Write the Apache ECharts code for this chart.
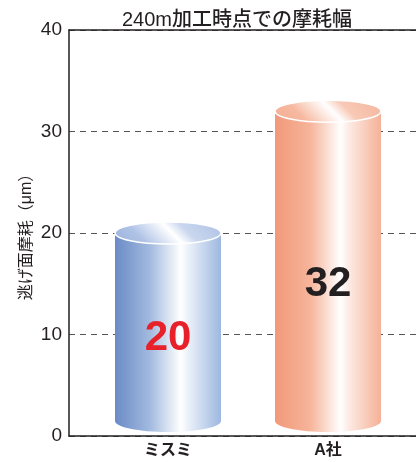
<!DOCTYPE html>
<html>
<head>
<meta charset="utf-8">
<script src="https://cdn.jsdelivr.net/npm/echarts@6/dist/echarts.min.js"></script>
<style>html,body{margin:0;padding:0;background:#fff;}#c{width:416px;height:462px;}</style>
</head>
<body>
<div id="c"></div>
<script>
var categories = ['ミスミ', 'A社'];
var values = [20, 32];
var valueLabels = ['20', '32'];
var labelColors = ['#e8202a', '#231f20'];
var yTicks = [0, 10, 20, 30, 40];
var titleText = '240m加工時点での摩耗幅';
var yName = '逃げ面摩耗（μm）';

var bodyStops = [
  [[0, '#6b8bc6'], [0.33, '#a2badf'], [0.62, '#ffffff'], [0.68, '#eef3fa'], [1, '#9db8e0']],
  [[0, '#f2997a'], [0.33, '#f6b49a'], [0.62, '#ffffff'], [0.68, '#fdeee8'], [1, '#f5b197']]
];
var topStops = [
  [[0, '#7f9ad2'], [0.35, '#b0c3e6'], [0.52, '#ffffff'], [0.6, '#c9d6ee'], [1, '#93acda']],
  [[0, '#f09a7c'], [0.35, '#f6b9a0'], [0.52, '#ffffff'], [0.6, '#f8c9b6'], [1, '#f09f82']]
];

var FONT = '"Liberation Sans", "Noto Sans CJK JP", sans-serif';
var chart = echarts.init(document.getElementById('c'), null, {renderer: 'canvas'});

function grad(stops, x, y, x2, y2, global) {
  return new echarts.graphic.LinearGradient(x, y, x2, y2,
    stops.map(function (s) { return {offset: s[0], color: s[1]}; }), global);
}

function renderItem(params, api) {
  var idx = params.dataIndex;
  var v = api.value(1);
  var top = api.coord([api.value(0), v]);
  var base = api.coord([api.value(0), 0]);
  var bw = api.size([1, 0])[0] * 0.6625;
  var rx = bw / 2;
  var ry = 11;
  var cx = top[0];
  var topY = top[1];
  var botY = base[1] - 15;
  var labelY = botY - (botY - topY) * 0.44;
  var a = rx;
  return {
    type: 'group',
    children: [
      {type: 'ellipse', shape: {cx: cx, cy: botY, rx: rx, ry: ry},
        style: {fill: grad(bodyStops[idx], 0, 0, 1, 0, false)}},
      {type: 'rect', shape: {x: cx - rx, y: topY, width: bw, height: botY - topY},
        style: {fill: grad(bodyStops[idx], 0, 0, 1, 0, false)}},
      {type: 'ellipse', shape: {cx: cx, cy: topY, rx: rx, ry: ry},
        style: {fill: grad(topStops[idx], cx - a, topY + a, cx + a, topY - a, true),
          stroke: '#ffffff', lineWidth: 1.5}},
      {type: 'text', x: cx, y: labelY,
        style: {text: valueLabels[idx], fill: labelColors[idx], font: 'bold 42px ' + FONT,
          align: 'center', verticalAlign: 'middle'}}
    ]
  };
}

var option = {
  animation: false,
  backgroundColor: '#ffffff',
  title: {
    text: titleText, left: 232, textAlign: 'center', top: 5,
    textStyle: {fontSize: 20, fontWeight: 500, color: '#231f20', fontFamily: FONT}
  },
  grid: [
    {left: 69, right: 0, top: 30, bottom: 26},
    {left: 88, right: 8, top: 30, bottom: 26}
  ],
  xAxis: [
    {gridIndex: 0, type: 'category', data: categories, position: 'bottom',
      axisLine: {show: true, lineStyle: {color: '#231f20', width: 1.5}},
      axisTick: {show: false}, axisLabel: {show: false}, splitLine: {show: false}},
    {gridIndex: 0, type: 'category', data: categories, position: 'top',
      axisLine: {show: true, onZero: false, lineStyle: {color: '#231f20', width: 1.5}},
      axisTick: {show: false}, axisLabel: {show: false}, splitLine: {show: false}},
    {gridIndex: 1, type: 'category', data: categories,
      axisLine: {show: false}, axisTick: {show: false},
      axisLabel: {show: true, margin: 7, color: '#231f20', fontSize: 16, fontWeight: 'bold', fontFamily: FONT}}
  ],
  yAxis: [
    {gridIndex: 0, type: 'value', min: yTicks[0], max: yTicks[yTicks.length - 1], interval: 10,
      name: yName, nameLocation: 'middle', nameGap: 34, nameMoveOverlap: false,
      nameTextStyle: {fontSize: 16, color: '#231f20', fontFamily: FONT},
      axisLine: {show: true, lineStyle: {color: '#231f20', width: 1.5}},
      axisTick: {show: false},
      axisLabel: {margin: 7, fontSize: 19, color: '#231f20', fontFamily: FONT,
        formatter: function (v) { return yTicks.indexOf(v) >= 0 ? String(v) : ''; }},
      splitLine: {show: true, lineStyle: {color: '#555555', type: [6, 5], width: 1}}},
    {gridIndex: 1, type: 'value', min: yTicks[0], max: yTicks[yTicks.length - 1], interval: 10,
      show: false}
  ],
  series: [{
    type: 'custom',
    xAxisIndex: 2, yAxisIndex: 1,
    renderItem: renderItem,
    data: categories.map(function (c, i) { return [i, values[i]]; }),
    clip: false
  }]
};
chart.setOption(option);
</script>
</body>
</html>
